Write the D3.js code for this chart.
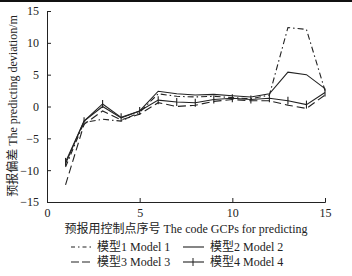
<!DOCTYPE html>
<html><head><meta charset="utf-8">
<script src="https://cdn.jsdelivr.net/npm/d3@7"></script>
<style>
body{margin:0;background:#fff;}
text{font-family:"Liberation Serif","Noto Sans CJK SC",serif;fill:#222;}
</style></head>
<body><svg id="c" width="352" height="276"></svg>
<script>
const xs = [1,2,3,4,5,6,7,8,9,10,11,12,13,14,15];
const model1 = [-9.5,-2.5,-2.0,-2.3,-0.9,2.0,1.6,1.5,1.6,1.4,1.2,1.8,12.4,12.1,2.5];
const model2 = [-9.0,-2.3,0.0,-1.8,-0.7,2.4,2.0,1.8,1.9,1.7,1.5,2.0,5.4,5.0,2.8];
const model3 = [-12.3,-2.8,-0.7,-2.1,-1.2,0.6,0.0,0.2,0.8,1.1,0.9,0.9,0.2,-0.3,1.8];
const model4 = [-8.7,-2.3,0.4,-1.7,-0.7,1.0,0.7,0.6,1.1,1.3,1.1,1.3,0.9,0.3,2.2];
const xTicks = [0,5,10,15];
const yTicks = [-15,-10,-5,0,5,10,15];
const seriesNames = ["模型1 Model 1","模型2 Model 2","模型3 Model 3","模型4 Model 4"];

const svg = d3.select("#c");
svg.append("rect").attr("x",0).attr("y",0).attr("width",352).attr("height",2).attr("fill","#111");
const x = d3.scaleLinear().domain([0,15]).range([47,325]);
const y = d3.scaleLinear().domain([-15,15]).range([202,11]);

const xa = svg.append("g").attr("transform",`translate(0,${y(-15)})`)
  .call(d3.axisBottom(x).tickValues(xTicks).tickSize(-4).tickPadding(6));
const ya = svg.append("g").attr("transform",`translate(${x(0)},0)`)
  .call(d3.axisLeft(y).tickValues(yTicks).tickSize(-4).tickPadding(8).tickFormat(d=>d<0?"\u2212"+Math.abs(d):d));
[xa,ya].forEach(a=>{a.selectAll("path,line").attr("stroke","#222");a.selectAll("text").attr("font-size",12).style("font-family","Liberation Serif");});

const line = d3.line().x((d,i)=>x(xs[i])).y(d=>y(d));
const styles = [
  {data:model1,dash:"6,3,1.5,3"},
  {data:model2,dash:null},
  {data:model3,dash:"8,4"},
  {data:model4,dash:null}
];
styles.forEach(s=>{
  svg.append("path").datum(s.data).attr("d",line).attr("fill","none")
    .attr("stroke","#222").attr("stroke-width",1.1).attr("stroke-dasharray",s.dash);
});
svg.append("g").selectAll("line").data(model4).join("line")
  .attr("x1",(d,i)=>x(xs[i])).attr("x2",(d,i)=>x(xs[i]))
  .attr("y1",d=>y(d)-4).attr("y2",d=>y(d)+4).attr("stroke","#222").attr("stroke-width",1.1);

svg.append("text").attr("transform","translate(17,106) rotate(-90)").attr("text-anchor","middle")
  .attr("font-size",12).text("预报偏差 The predicting deviation/m");
svg.append("text").attr("x",186).attr("y",233).attr("text-anchor","middle")
  .attr("font-size",12).text("预报用控制点序号 The code GCPs for predicting");

const leg = [
  {lx:71,tx:97,yy:247,dash:"4,3,1.5,3"},
  {lx:183,tx:210,yy:247,dash:null},
  {lx:71,tx:97,yy:262,dash:"8,3"},
  {lx:183,tx:210,yy:262,dash:null}
];
leg.forEach((l,i)=>{
  svg.append("line").attr("x1",l.lx).attr("x2",l.lx+21).attr("y1",l.yy).attr("y2",l.yy)
    .attr("stroke","#222").attr("stroke-width",1.1).attr("stroke-dasharray",l.dash);
  if(i===3) svg.append("line").attr("x1",l.lx+10).attr("x2",l.lx+10).attr("y1",l.yy-4).attr("y2",l.yy+4).attr("stroke","#222");
  svg.append("text").attr("x",l.tx).attr("y",l.yy+4).attr("font-size",12).text(seriesNames[i]);
});
</script></body></html>
